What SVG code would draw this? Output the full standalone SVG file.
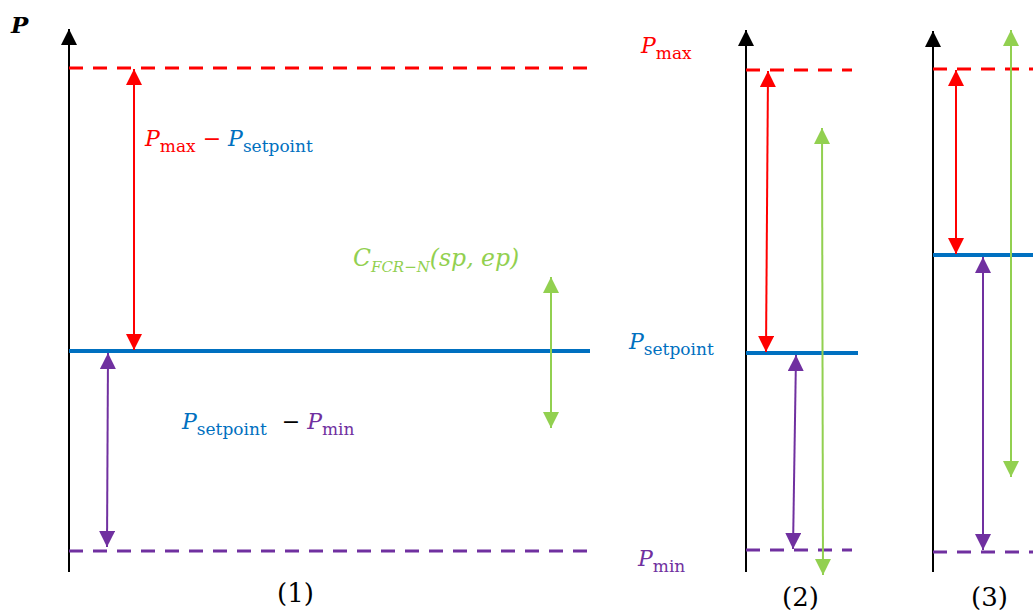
<svg xmlns="http://www.w3.org/2000/svg" width="1033" height="610" viewBox="0 0 1033 610">
<style>
.ax{stroke:#000;stroke-width:2;fill:none}
.dr{stroke:#FF0000;stroke-width:3;stroke-dasharray:14,10;fill:none}
.dp{stroke:#7030A0;stroke-width:3;stroke-dasharray:14,10;fill:none}
.bl{stroke:#0070C0;stroke-width:4;fill:none}
.ar{stroke:#FF0000;stroke-width:2;fill:none}
.ap{stroke:#7030A0;stroke-width:2;fill:none}
.ag{stroke:#92D050;stroke-width:2;fill:none}
.t{font-family:"DejaVu Serif","Liberation Serif",serif;font-size:22px}
.i{font-style:italic}
.s{font-size:17px}
.n{font-size:26px}
.r{fill:#FF0000}.b{fill:#0070C0}.p{fill:#7030A0}.g{fill:#92D050}.k{fill:#000}
</style>
<defs>
<marker id="mk" viewBox="0 0 10 10" refX="10" refY="5" markerWidth="8" markerHeight="8" orient="auto-start-reverse"><path d="M0,0L10,5L0,10z" fill="#000"/></marker>
<marker id="mr" viewBox="0 0 10 10" refX="10" refY="5" markerWidth="8" markerHeight="8" orient="auto-start-reverse"><path d="M0,0L10,5L0,10z" fill="#FF0000"/></marker>
<marker id="mp" viewBox="0 0 10 10" refX="10" refY="5" markerWidth="8" markerHeight="8" orient="auto-start-reverse"><path d="M0,0L10,5L0,10z" fill="#7030A0"/></marker>
<marker id="mg" viewBox="0 0 10 10" refX="10" refY="5" markerWidth="8" markerHeight="8" orient="auto-start-reverse"><path d="M0,0L10,5L0,10z" fill="#92D050"/></marker>
</defs>
<g id="panel1">
<path class="ax" d="M69,572V29" marker-end="url(#mk)"/>
<path class="dr" d="M69,68H590"/>
<path class="bl" d="M69,351H590"/>
<path class="dp" d="M69,551H590"/>
</g>
<g id="panel2">
<path class="ax" d="M746,572V30" marker-end="url(#mk)"/>
<path class="dr" d="M746,70H852"/>
<path class="bl" d="M746,353H858"/>
<path class="dp" d="M746,550H852"/>
</g>
<g id="panel3">
<path class="ax" d="M933,572V31" marker-end="url(#mk)"/>
<path class="dr" d="M933,69H1033"/>
<path class="bl" d="M933,255H1033"/>
<path class="dp" d="M933,552H1033"/>
</g>
<g id="connectors">
<path class="ar" d="M134,69V350" marker-start="url(#mr)" marker-end="url(#mr)"/>
<path class="ap" d="M108,353L107,547" marker-start="url(#mp)" marker-end="url(#mp)"/>
<path class="ag" d="M551,277V428" marker-start="url(#mg)" marker-end="url(#mg)"/>
<path class="ar" d="M768,71L766,352" marker-start="url(#mr)" marker-end="url(#mr)"/>
<path class="ap" d="M796,355L793,549" marker-start="url(#mp)" marker-end="url(#mp)"/>
<path class="ag" d="M822,128L823,575" marker-start="url(#mg)" marker-end="url(#mg)"/>
<path class="ar" d="M956,70V254" marker-start="url(#mr)" marker-end="url(#mr)"/>
<path class="ap" d="M983,257V550" marker-start="url(#mp)" marker-end="url(#mp)"/>
<path class="ag" d="M1011,30V477" marker-start="url(#mg)" marker-end="url(#mg)"/>
</g>
<g id="labels">
<text class="t i k" x="11" y="33" style="font-weight:bold;font-size:23px">P</text>
<text class="t r" x="145" y="146"><tspan class="i">P</tspan><tspan class="s" dy="6">max</tspan><tspan dy="-6"> − </tspan><tspan class="i b">P</tspan><tspan class="s b" dy="6">setpoint</tspan></text>
<text class="t g i" x="353" y="266" style="font-size:23.5px">C<tspan style="font-size:15px" dy="6">FCR−N</tspan><tspan dy="-6">(sp, ep)</tspan></text>
<text class="t b" x="182" y="429"><tspan class="i">P</tspan><tspan class="s" dy="6">setpoint</tspan><tspan class="k" dy="-6" dx="8">  − </tspan><tspan class="i p">P</tspan><tspan class="s p" dy="6">min</tspan></text>
<text class="t r" x="641" y="53"><tspan class="i">P</tspan><tspan class="s" dy="6">max</tspan></text>
<text class="t b" x="629" y="349"><tspan class="i">P</tspan><tspan class="s" dy="6">setpoint</tspan></text>
<text class="t p" x="638" y="566"><tspan class="i">P</tspan><tspan class="s" dy="6">min</tspan></text>
<text class="t n k" x="277" y="602">(1)</text>
<text class="t n k" x="782" y="606">(2)</text>
<text class="t n k" x="971" y="606">(3)</text>
</g>
</svg>
